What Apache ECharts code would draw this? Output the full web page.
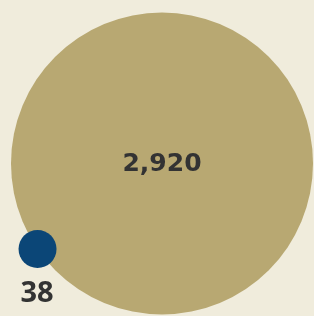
<!DOCTYPE html>
<html>
<head>
<meta charset="utf-8">
<script src="https://cdn.jsdelivr.net/npm/echarts@6/dist/echarts.min.js"></script>
<style>html,body{margin:0;padding:0;background:#f0ecdc;}#c{width:314px;height:316px;}</style>
</head>
<body>
<div id="c"></div>
<script>
// Data
const names = ['Total', 'Subset'];
const values = [2920, 38];

const fills = ['#b8a872', '#0b4677'];
const fonts = ['bold 25px "DejaVu Sans"', 'bold 29px "Open Sans"'];
const maxV = Math.max.apply(null, values);

const chart = echarts.init(document.getElementById('c'), null, {renderer: 'canvas'});
chart.setOption({
  backgroundColor: '#f0ecdc',
  animation: false,
  series: [{
    type: 'custom',
    coordinateSystem: 'none',
    data: values.map((v, i) => ({name: names[i], value: [v]})),
    renderItem: function (params, api) {
      const i = params.dataIndex;
      const v = api.value(0);
      const R = 151, cx0 = 162, cy0 = 163.5;
      const r = 2 + (R - 2) * Math.sqrt(v / maxV);
      let cx = cx0, cy = cy0;
      if (i > 0) {
        const ang = Math.atan2(86.2, -125.5);
        cx = cx0 + R * Math.cos(ang);
        cy = cy0 + R * Math.sin(ang);
      }
      const label = v.toLocaleString('en-US');
      const tx = i === 0 ? cx : cx - 0.5;
      const ty = i === 0 ? cy + 1 : cy + r + 26;
      return {
        type: 'group',
        children: [
          {type: 'circle', shape: {cx: cx, cy: cy, r: r}, style: {fill: fills[i]}},
          {type: 'text', style: {
            text: label, x: tx, y: ty, align: 'center', verticalAlign: 'middle',
            fill: '#333333', font: fonts[i]
          }}
        ]
      };
    }
  }]
});
</script>
</body>
</html>
